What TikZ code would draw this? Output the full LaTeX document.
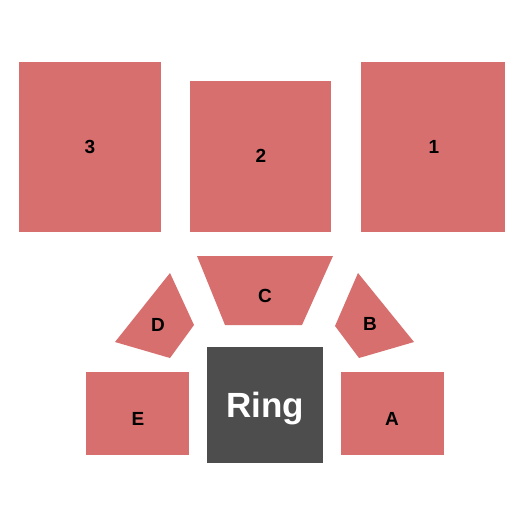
\documentclass[tikz,border=0pt]{standalone}
\usepackage{fontspec}
\setmainfont{Liberation Sans}
\definecolor{sec}{HTML}{D76F6E}
\definecolor{ring}{HTML}{4D4D4D}
\begin{document}
\begin{tikzpicture}[x=1pt,y=-1pt,
  secfill/.style={fill=sec,draw=none},
  lab/.style={font=\fontsize{19}{19}\selectfont\bfseries,text=black,inner sep=0pt}]
\useasboundingbox (0,0) rectangle (525,525);
\fill[white] (0,0) rectangle (525,525);
% top sections
\fill[secfill] (19,62) rectangle (161,232);
\node[lab] (s3) at (90,147) {3};
\fill[secfill] (190,81) rectangle (331,232);
\node[lab] (s2) at (261,156) {2};
\fill[secfill] (361,62) rectangle (505,232);
\node[lab] (s1) at (434,147) {1};
% C
\fill[secfill] (197,256) -- (333,256) -- (302,325) -- (225,325) -- cycle;
\node[lab] (sc) at (265,296) {C};
% D
\fill[secfill] (170,273) -- (194,325) -- (170,358) -- (115,342) -- cycle;
\node[lab] (sd) at (158,325) {D};
% B
\fill[secfill] (358,273) -- (414,342) -- (359,358) -- (335,326) -- cycle;
\node[lab] (sb) at (370,324) {B};
% E, A
\fill[secfill] (86,372) rectangle (189,455);
\node[lab] (se) at (138,419) {E};
\fill[secfill] (341,372) rectangle (444,455);
\node[lab] (sa) at (392,419) {A};
% Ring
\fill[ring] (207,347) rectangle (323,463);
\node[font=\fontsize{35}{35}\selectfont\bfseries,text=white,inner sep=0pt,anchor=base] (rg) at (265,417) {Ring};
\end{tikzpicture}
\end{document}
